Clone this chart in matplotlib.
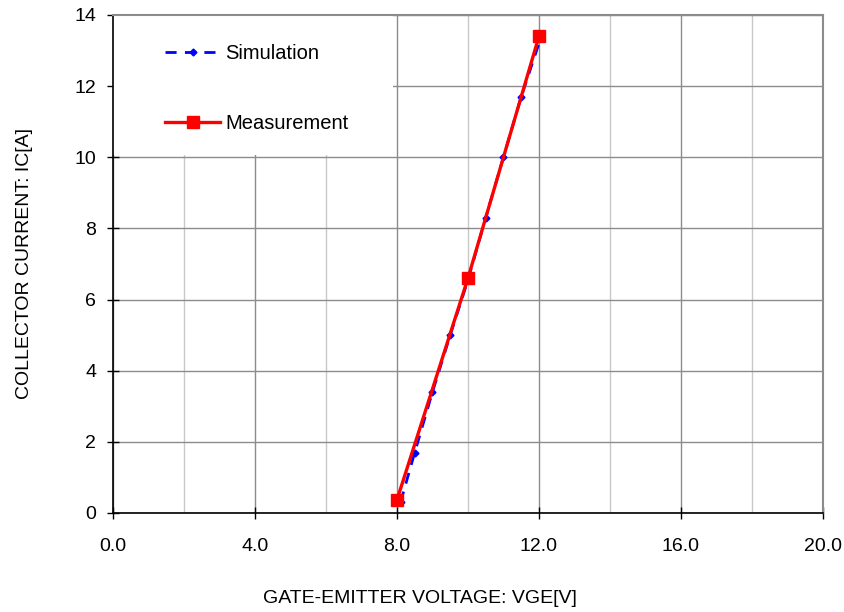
import numpy as np
import matplotlib.pyplot as plt
from matplotlib.patches import Rectangle
from matplotlib.ticker import MultipleLocator

plt.rcParams["font.family"] = ["Liberation Sans", "DejaVu Sans"]

# Data
meas_vge = [8.0, 10.0, 12.0]
meas_ic = [0.37, 6.6, 13.4]

sim_vge = [8.1, 8.5, 9.0, 9.5, 10.0, 10.5, 11.0, 11.5, 12.05]
sim_ic = [0.3, 1.7, 3.4, 5.0, 6.55, 8.3, 10.0, 11.7, 13.35]

fig = plt.figure(figsize=(8.44, 6.12), dpi=100)
ax = fig.add_axes([0.1339, 0.1618, 0.8411, 0.8137])

ax.plot(sim_vge, sim_ic, color="#0000ff", linestyle=(0, (4, 3)), lw=2,
        marker="D", markersize=3.5, label="Simulation", zorder=3)
ax.plot(meas_vge, meas_ic, color="#ff0000", lw=2.4, marker="s",
        markersize=8, label="Measurement", zorder=4)

ax.set_xlim(0, 20)
ax.set_ylim(0, 14)
ax.xaxis.set_major_locator(MultipleLocator(4))
ax.xaxis.set_minor_locator(MultipleLocator(2))
ax.yaxis.set_major_locator(MultipleLocator(2))
ax.set_xticklabels([f"{v:.1f}" for v in ax.get_xticks()])

ax.grid(True, which="major", color="#8c8c8c", lw=1)
ax.grid(True, which="minor", axis="x", color="#c8c8c8", lw=1)
ax.set_axisbelow(True)

for s in ["top", "right"]:
    ax.spines[s].set_color("#8c8c8c")
    ax.spines[s].set_linewidth(1.5)
for s in ["left", "bottom"]:
    ax.spines[s].set_color("black")
    ax.spines[s].set_linewidth(1.2)

ax.tick_params(axis="both", which="major", direction="inout", length=8,
               labelsize=14, width=1)
ax.tick_params(axis="x", which="minor", length=0)
ax.tick_params(axis="x", pad=14)
ax.tick_params(axis="y", pad=8)

ax.set_xlabel("GATE-EMITTER VOLTAGE: VGE[V]", fontsize=14)
ax.set_ylabel("COLLECTOR CURRENT: IC[A]", fontsize=14)
ax.xaxis.set_label_coords(0.432, -0.171)
ax.xaxis.label.set_va("center")
ax.yaxis.set_label_coords(-0.125, 0.5)
ax.yaxis.label.set_va("center")

# white legend area hiding the grid
ax.add_patch(Rectangle((0.0, 0.719), 0.394, 0.281, transform=ax.transAxes,
                       facecolor="white", edgecolor="none", zorder=2))

leg = ax.legend(loc="upper left", bbox_to_anchor=(0.073, 0.941), fontsize=14.5,
                frameon=False, labelspacing=2.5, handlelength=2.75,
                handletextpad=0.25, borderpad=0.0, borderaxespad=0.0)
leg.set_zorder(5)

fig.savefig("out.png", dpi=100)
